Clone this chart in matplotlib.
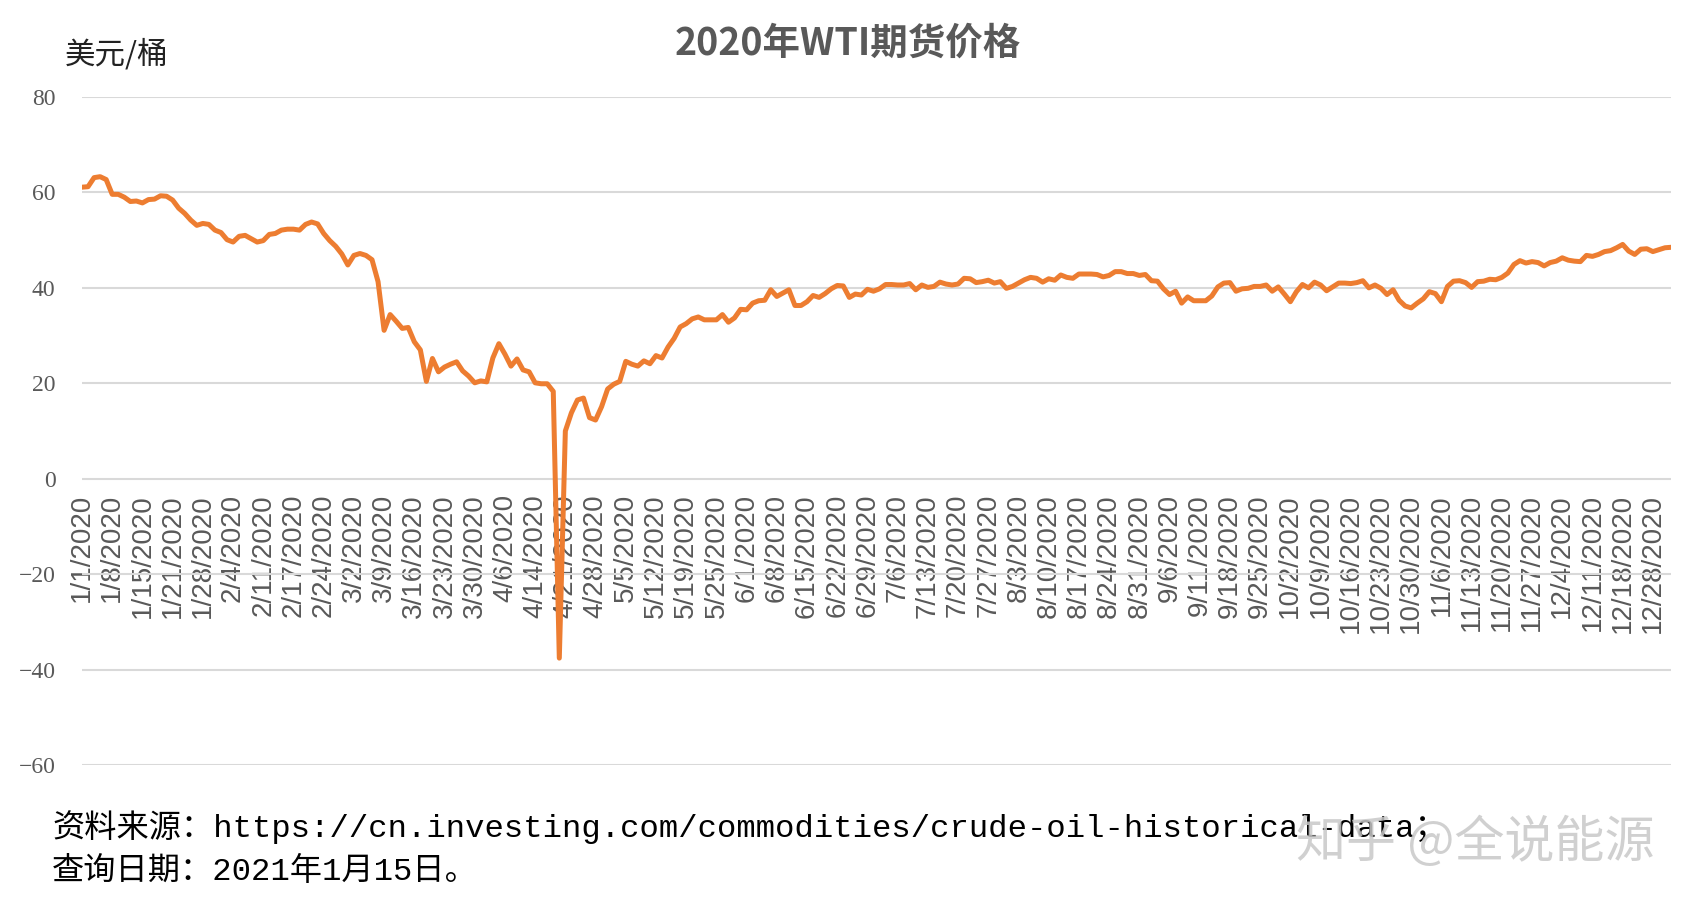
import matplotlib
matplotlib.use('Agg')
import matplotlib.pyplot as plt
import pandas as pd

# 交易日（investing.com 数据里多了几个周日，少了两个假日）
extra_days = ['2020-01-19', '2020-02-16', '2020-05-24', '2020-09-06']
missing_days = ['2020-04-10', '2020-12-25']

# 每月收盘价（美元/桶）
jan = [61.1, 61.2, 63.1, 63.3, 62.7, 59.6, 59.6, 59.0, 58.1, 58.2, 57.8, 58.5,
       58.6, 59.3, 59.2, 58.4, 56.7, 55.6, 54.2, 53.1, 53.5, 53.3, 52.1, 51.6]
feb = [50.1, 49.6, 50.8, 51.0, 50.3, 49.6, 49.9, 51.2, 51.4, 52.1, 52.3, 52.3,
       52.1, 53.3, 53.8, 53.4, 51.4, 49.9, 48.7, 47.1, 44.8]
mar = [46.8, 47.2, 46.8, 45.9, 41.3, 31.1, 34.4, 33.0, 31.5, 31.7, 28.7, 27.0,
       20.4, 25.2, 22.4, 23.4, 24.0, 24.5, 22.6, 21.5, 20.1, 20.5]
apr = [20.3, 25.3, 28.3, 26.1, 23.6, 25.1, 22.8, 22.4, 20.1, 19.9, 19.9, 18.3,
       -37.6, 10.0, 13.8, 16.5, 16.9, 12.8, 12.3, 15.1, 18.8]
may = [19.8, 20.4, 24.6, 24.0, 23.6, 24.7, 24.1, 25.8, 25.3, 27.6, 29.4, 31.8,
       32.5, 33.5, 33.9, 33.3, 33.3, 33.3, 34.4, 32.8, 33.7, 35.5]
jun = [35.4, 36.8, 37.3, 37.4, 39.6, 38.2, 38.9, 39.6, 36.3, 36.3, 37.1, 38.4,
       38.0, 38.8, 39.8, 40.5, 40.4, 38.0, 38.7, 38.5, 39.7, 39.3]
jul = [39.8, 40.7, 40.7, 40.6, 40.6, 40.9, 39.6, 40.6, 40.1, 40.3, 41.2, 40.8,
       40.6, 40.8, 42.0, 41.9, 41.1, 41.3, 41.6, 41.0, 41.3, 39.9, 40.3]
aug = [41.0, 41.7, 42.2, 42.0, 41.2, 41.9, 41.6, 42.7, 42.2, 42.0, 42.9, 42.9,
       42.9, 42.8, 42.3, 42.6, 43.4, 43.4, 43.0, 43.0, 42.6]
sep = [42.8, 41.5, 41.4, 39.8, 38.6, 39.3, 36.8, 38.1, 37.3, 37.3, 37.3, 38.3,
       40.2, 41.0, 41.1, 39.3, 39.8, 39.9, 40.3, 40.3, 40.6, 39.3, 40.2]
oct_ = [38.7, 37.1, 39.2, 40.7, 40.0, 41.2, 40.6, 39.4, 40.2, 41.0, 41.0, 40.9,
        41.1, 41.5, 40.0, 40.6, 39.9, 38.6, 39.6, 37.4, 36.2, 35.8]
nov = [36.8, 37.7, 39.2, 38.8, 37.1, 40.3, 41.4, 41.5, 41.1, 40.1, 41.3, 41.4,
       41.8, 41.7, 42.2, 43.1, 44.9, 45.7, 45.2, 45.5, 45.3]
dec = [44.6, 45.3, 45.6, 46.3, 45.8, 45.6, 45.5, 46.8, 46.6, 47.0, 47.6, 47.8,
       48.4, 49.1, 47.7, 47.0, 48.1, 48.2, 47.6, 48.0, 48.4, 48.5]

prices = jan + feb + mar + apr + may + jun + jul + aug + sep + oct_ + nov + dec

days = pd.bdate_range('2020-01-01', '2020-12-31')
days = days.drop(pd.to_datetime(missing_days)).union(pd.to_datetime(extra_days))
labels = [f'{d.month}/{d.day}/{d.year}' for d in days]
x = list(range(len(prices)))

grey = '#595959'

fig = plt.figure(figsize=(16.95, 9.13), dpi=100)
ax = fig.add_axes([82 / 1695, 1 - 765 / 913, (1671 - 82) / 1695, (765 - 97) / 913])

ax.plot(x, prices, color='#ED7D31', linewidth=3.6, solid_joinstyle='round', zorder=3)

ax.set_xlim(0, len(prices) - 1)
ax.set_ylim(-60, 80)
ax.set_yticks(range(-60, 81, 20))
ax.grid(axis='y', color='#d9d9d9', linewidth=1.5)
ax.set_axisbelow(True)
for s in ['top', 'right', 'left']:
    ax.spines[s].set_visible(False)
# 横轴标签贴在 0 线下方
ax.spines['bottom'].set_position(('data', 0))
ax.spines['bottom'].set_color('none')

ax.set_xticks(x[::5])
ax.set_xticklabels(labels[::5], rotation=90, ha='center', va='top',
                   fontsize=20, color=grey, family='Liberation Sans')
ax.tick_params(axis='x', length=0, pad=11)
ax.tick_params(axis='y', length=0, pad=19, labelsize=17, labelcolor=grey)
for t in ax.get_yticklabels():
    t.set_family('Liberation Serif')

fig.text(0.5, 1 - 43 / 913, '2020年WTI期货价格', ha='center', va='center',
         fontsize=27, fontweight='bold', color=grey, family='Noto Sans CJK SC')
fig.text(65 / 1695, 1 - 55 / 913, '美元/桶', ha='left', va='center',
         fontsize=22, color='#222222', family='Noto Sans CJK SC', fontweight='light')

foot_font = ['Liberation Mono', 'Noto Sans CJK SC']
fig.text(52 / 1695, 1 - 827 / 913,
         '资料来源：https://cn.investing.com/commodities/crude-oil-historical-data；',
         ha='left', va='center', fontsize=23.2, color='black', family=foot_font)
fig.text(52 / 1695, 1 - 872 / 913, '查询日期：2021年1月15日。',
         ha='left', va='center', fontsize=23.2, color='black', family=foot_font)

# 水印
fig.text(1654 / 1695, 1 - 843 / 913, '知乎 @全说能源', ha='right', va='center',
         fontsize=36, color='#c8c8c8', alpha=0.85, family='Noto Sans CJK SC')

fig.savefig('out.png', dpi=100)
